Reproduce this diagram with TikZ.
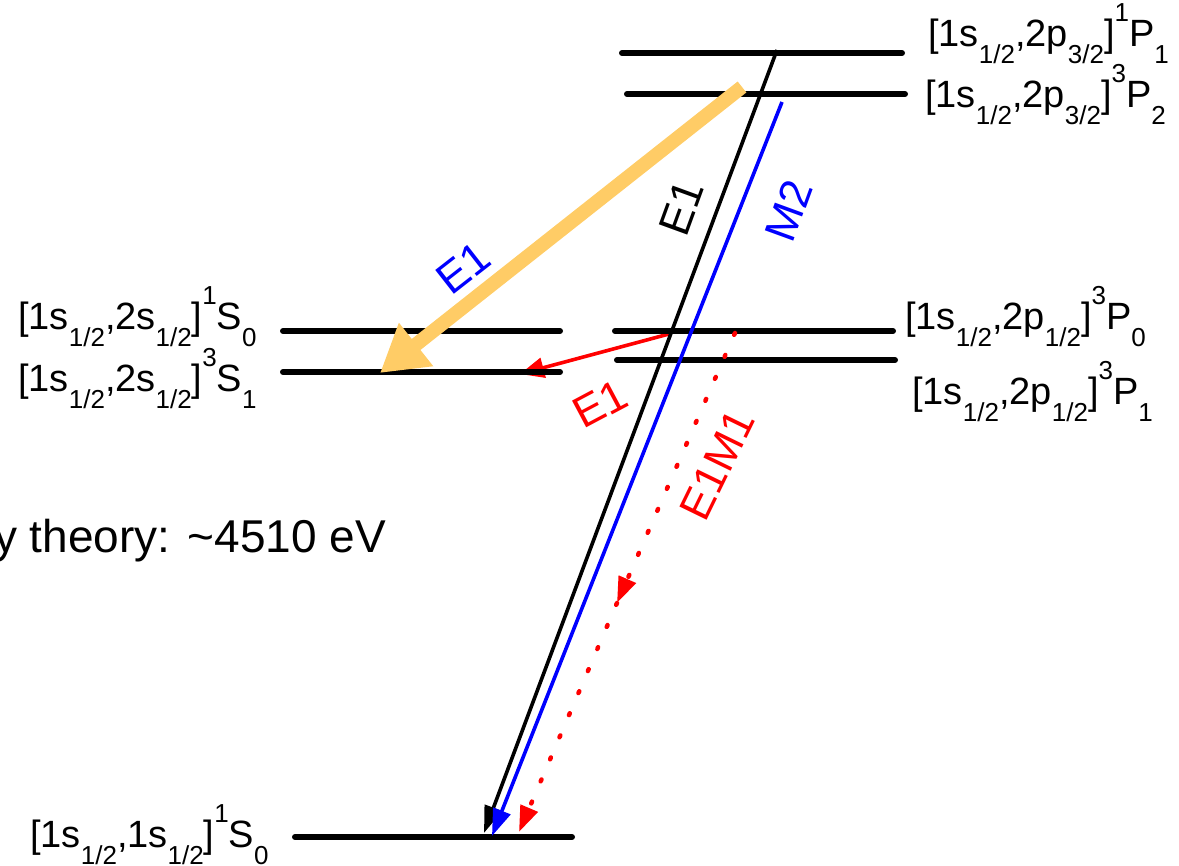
\documentclass[tikz,border=0pt]{standalone}
\usepackage{fontspec}
\setmainfont{Liberation Sans}
\usetikzlibrary{arrows.meta}
\definecolor{lorange}{RGB}{255,204,102}
\newcommand\lsb[1]{\raisebox{-17pt}{\fontsize{26}{26}\selectfont #1}}
\newcommand\lsp[1]{\raisebox{25pt}{\fontsize{26}{26}\selectfont #1}}
\newcommand\lvl[7]{[#1\lsb{#2},#3\lsb{#4}]\lsp{#5}#6\lsb{#7}}
\begin{document}
\begin{tikzpicture}[x=1pt,y=-1pt,
  font=\fontsize{38}{40}\selectfont,
  level/.style={line width=6pt, line cap=round},
  lbl/.style={anchor=base west, inner sep=0pt},
  trans/.style={line width=3.6pt},
  tipA/.style={-{Triangle[length=27pt,width=18pt]}},
  alabel/.style={inner sep=0pt, font=\fontsize{44}{46}\selectfont}]
\useasboundingbox (0,0) rectangle (1179,866);
\clip (0,0) rectangle (1179,866);
% level end points
\coordinate (p1L) at (622,53);  \coordinate (p1R) at (902,53);
\coordinate (p2L) at (627,94);  \coordinate (p2R) at (905,94);
\coordinate (s0L) at (283,331); \coordinate (s0R) at (560,331);
\coordinate (s1L) at (283,372); \coordinate (s1R) at (560,372);
\coordinate (q0L) at (615,331); \coordinate (q0R) at (893,331);
\coordinate (q1L) at (617,360); \coordinate (q1R) at (895,360);
\coordinate (gL) at (295,837);  \coordinate (gR) at (572,837);
% transition end points
\coordinate (redS) at (669,334); \coordinate (redE) at (520,374);
\coordinate (bkS) at (777,50);   \coordinate (bkE) at (484,833);
\coordinate (blS) at (782,102);  \coordinate (blE) at (492,836);
\coordinate (dS) at (735,333);   \coordinate (dM) at (617,603); \coordinate (dE) at (519,832);
\coordinate (oS) at (742,87);    \coordinate (oE) at (380,373);
% red E1 (under the levels)
\draw[trans, red, -{Triangle[length=24pt,width=20pt]}] (redS) -- (redE);
% levels
\draw[level] (p1L) -- (p1R);
\draw[level] (p2L) -- (p2R);
\draw[level] (s0L) -- (s0R);
\draw[level] (s1L) -- (s1R);
\draw[level] (q0L) -- (q0R);
\draw[level] (q1L) -- (q1R);
\draw[level] (gL) -- (gR);
% transitions
\draw[trans, black, tipA] (bkS) -- (bkE);
\draw[trans, blue, tipA] (blS) -- (blE);
\draw[red, line width=4.5pt, line cap=round, dash pattern=on 2pt off 22pt, -{Triangle[length=26pt,width=18pt]}] (dS) -- (dM);
\draw[red, line width=4.5pt, line cap=round, dash pattern=on 2pt off 22pt, -{Triangle[length=26pt,width=18pt]}] (dM) -- (dE);
\draw[lorange, line width=14pt, -{Triangle[length=46pt,width=52pt]}] (oS) -- (oE);
% level labels
\node[lbl] (lp1) at (928,47) {\lvl{1s}{1/2}{2p}{3/2}{1}{P}{1}};
\node[lbl] (lp2) at (925,108) {\lvl{1s}{1/2}{2p}{3/2}{3}{P}{2}};
\node[lbl] (ls0) at (18,330) {\lvl{1s}{1/2}{2s}{1/2}{1}{S}{0}};
\node[lbl] (ls1) at (18,392) {\lvl{1s}{1/2}{2s}{1/2}{3}{S}{1}};
\node[lbl] (lq0) at (905,330) {\lvl{1s}{1/2}{2p}{1/2}{3}{P}{0}};
\node[lbl] (lq1) at (912,405) {\lvl{1s}{1/2}{2p}{1/2}{3}{P}{1}};
\node[lbl] (lg) at (30,847) {\lvl{1s}{1/2}{1s}{1/2}{1}{S}{0}};
% transition labels
\node[alabel, blue, rotate=38] (tE1o) at (463,268) {E1};
\node[alabel, black, rotate=70] (tE1b) at (681,208) {E1};
\node[alabel, blue, rotate=70] (tM2) at (789,211) {M2};
\node[alabel, red, rotate=28] (tE1r) at (600,404) {E1};
\node[alabel, red, rotate=64] (tE1M1) at (717,465) {E1M1};
% energy note
\node[anchor=base west, inner sep=0pt, font=\fontsize{46}{48}\selectfont] (theory) at (-6,553) {y theory: \textasciitilde4510 eV};
\end{tikzpicture}
\end{document}
